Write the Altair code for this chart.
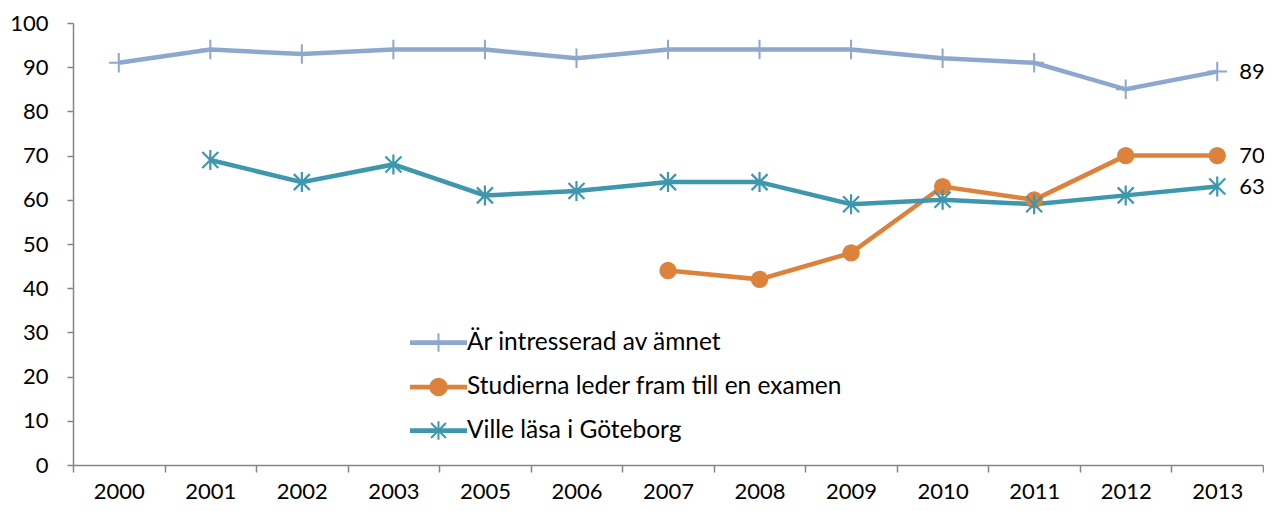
import altair as alt
import pandas as pd

years = ["2000", "2001", "2002", "2003", "2005", "2006", "2007",
         "2008", "2009", "2010", "2011", "2012", "2013"]
series_names = ["Är intresserad av ämnet",
                "Studierna leder fram till en examen",
                "Ville läsa i Göteborg"]
intresserad = [91, 94, 93, 94, 94, 92, 94, 94, 94, 92, 91, 85, 89]
examen = [None, None, None, None, None, None, 44, 42, 48, 63, 60, 70, 70]
goteborg = [None, 69, 64, 68, 61, 62, 64, 64, 59, 60, 59, 61, 63]
y_ticks = [0, 10, 20, 30, 40, 50, 60, 70, 80, 90, 100]
colors = ["#8EA7CE", "#DC823B", "#3E97AD"]

rows = []
for name, vals in zip(series_names, [intresserad, examen, goteborg]):
    for yr, v in zip(years, vals):
        if v is not None:
            rows.append({"year": yr, "series": name, "value": v})
df = pd.DataFrame(rows)

FONT = "Lato"
PLUS = "M-1,0L1,0M0,-1L0,1"
AST = "M0,-1L0,1M-0.8,-0.8L0.8,0.8M-0.8,0.8L0.8,-0.8"
legend_paths = [
    "M-1,-0.05L1,-0.05L1,0.05L-1,0.05ZM0,-0.34L0,0.34",
    "M-1,-0.05L1,-0.05L1,0.05L-1,0.05ZM0.3,0A0.3,0.3 0 1,1 -0.3,0A0.3,0.3 0 1,1 0.3,0Z",
    "M-1,-0.05L1,-0.05L1,0.05L-1,0.05ZM0,-0.34L0,0.34M-0.27,-0.27L0.27,0.27M-0.27,0.27L0.27,-0.27",
]

base = alt.Chart(df)

x = alt.X("year:N", sort=years,
          scale=alt.Scale(type="band", domain=years, paddingInner=0, paddingOuter=0),
          axis=alt.Axis(title=None, tickBand="extent", labelAngle=0, tickSize=7,
                        labelPadding=9, labelFont=FONT, labelFontSize=22,
                        labelColor="black", domainColor="#868686", tickColor="#868686",
                        domainWidth=1.5, tickWidth=1.5, grid=False))
y = alt.Y("value:Q", scale=alt.Scale(domain=[0, 100], nice=False),
          axis=alt.Axis(title=None, values=y_ticks, tickSize=6, labelPadding=19,
                        labelFont=FONT, labelFontSize=22, labelColor="black",
                        domainColor="#868686", tickColor="#868686",
                        domainWidth=1.5, tickWidth=1.5, grid=False))

layers = []
for name, col in zip(series_names, colors):
    layers.append(base.transform_filter(alt.datum.series == name).mark_line(
        strokeWidth=4.5, color=col).encode(x=x, y=y))

layers.append(base.transform_filter(alt.datum.series == series_names[0]).mark_point(
    shape=PLUS, size=380, strokeWidth=2, color=colors[0], filled=False, opacity=1
).encode(x=x, y=y))

layers.append(base.transform_filter(alt.datum.series == series_names[1]).mark_circle(
    size=300, color=colors[1], opacity=1
).encode(x=x, y=y))

layers.append(base.transform_filter(alt.datum.series == series_names[2]).mark_point(
    shape=AST, size=400, strokeWidth=2.2, color=colors[2], filled=False, opacity=1
).encode(x=x, y=y))

leg = alt.Legend(title=None, orient="none", legendX=337, legendY=291,
                 labelFont=FONT, labelFontSize=24.5, labelColor="black", labelLimit=0,
                 symbolSize=3025, symbolStrokeWidth=2, rowPadding=2.5,
                 labelOffset=0, padding=0)

layers.append(base.transform_filter("datum.value < 0").mark_point(
    strokeWidth=2, filled=True, opacity=1
).encode(
    x=x, y=y,
    shape=alt.Shape("series:N", scale=alt.Scale(domain=series_names, range=legend_paths), legend=leg),
    fill=alt.Fill("series:N", scale=alt.Scale(domain=series_names, range=colors), legend=leg),
    stroke=alt.Stroke("series:N", scale=alt.Scale(domain=series_names, range=colors), legend=leg),
))

layers.append(base.transform_filter(alt.datum.year == years[-1]).mark_text(
    align="left", baseline="middle", dx=22, font=FONT, fontSize=22, color="black"
).encode(x=x, y=y, text="value:Q"))

chart = alt.layer(*layers).properties(
    width=1190, height=442,
    padding={"left": 65, "top": 15, "right": 1, "bottom": 38},
    autosize=alt.AutoSizeParams(type="none"),
).configure_view(stroke=None)

chart.save("out.html", embed_options={"renderer": "svg", "actions": False})
